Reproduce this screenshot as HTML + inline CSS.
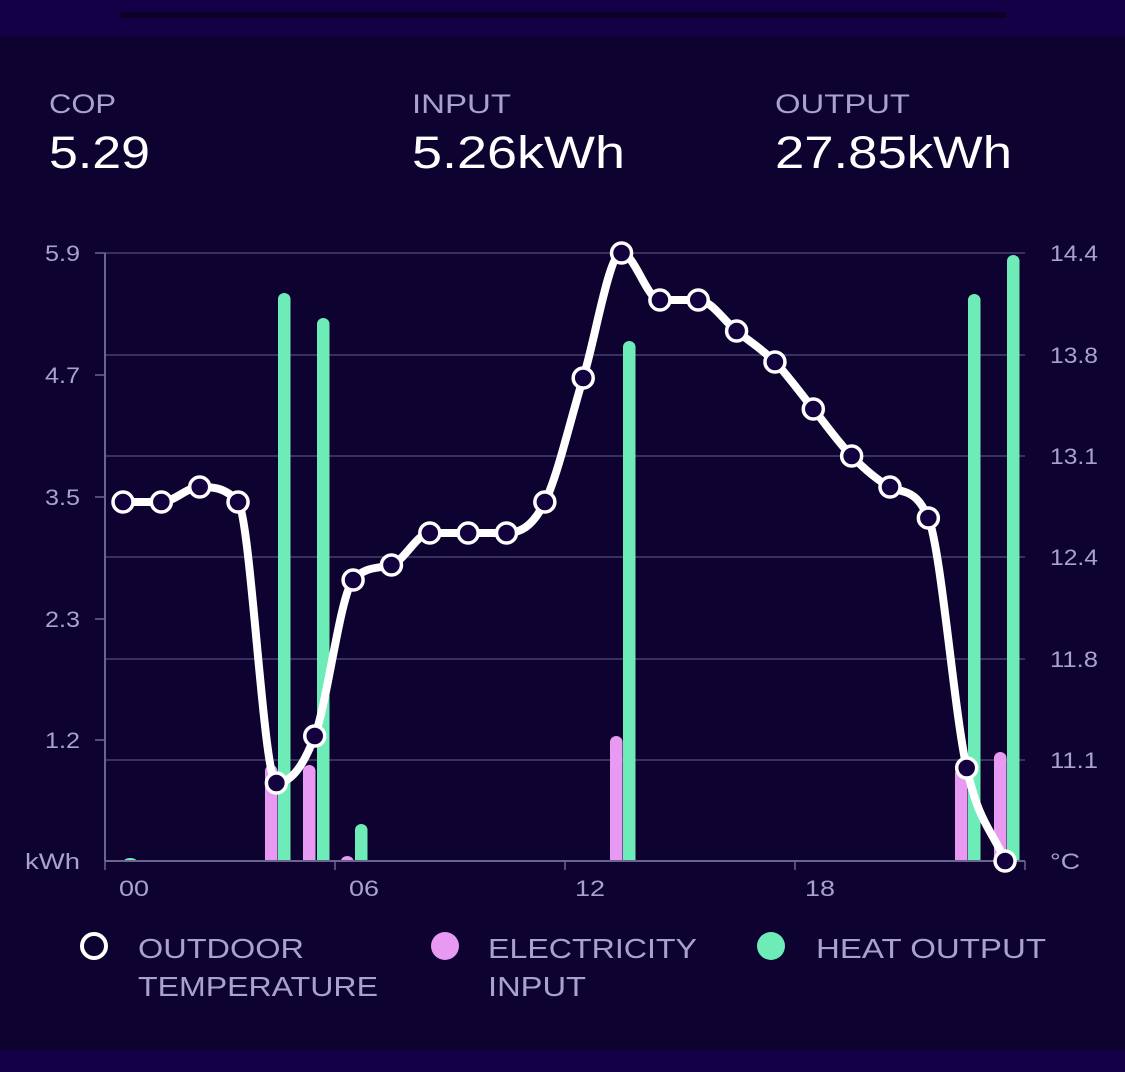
<!DOCTYPE html>
<html><head><meta charset="utf-8"><style>
html,body{margin:0;padding:0;background:#0d0230;width:1125px;height:1072px;overflow:hidden;font-family:"Liberation Sans",sans-serif}
</style></head><body>
<svg id="s" width="1125" height="1072" xmlns="http://www.w3.org/2000/svg" style="position:absolute;left:0;top:0">
<rect x="0" y="0" width="1125" height="36" fill="#130046"/>
<rect x="120" y="12" width="886" height="6" fill="#0b0128"/>
<rect x="0" y="1050" width="1125" height="22" fill="#130046"/>
<g font-family="Liberation Sans, sans-serif">
<text x="49" y="113" fill="#a9a1cf" font-size="27" textLength="67" lengthAdjust="spacingAndGlyphs">COP</text>
<text x="412" y="113" fill="#a9a1cf" font-size="27" textLength="99" lengthAdjust="spacingAndGlyphs">INPUT</text>
<text x="775" y="113" fill="#a9a1cf" font-size="27" textLength="135" lengthAdjust="spacingAndGlyphs">OUTPUT</text>
<text x="49" y="168" fill="#fff" font-size="45" textLength="101" lengthAdjust="spacingAndGlyphs">5.29</text>
<text x="412" y="168" fill="#fff" font-size="45" textLength="213" lengthAdjust="spacingAndGlyphs">5.26kWh</text>
<text x="775" y="168" fill="#fff" font-size="45" textLength="237" lengthAdjust="spacingAndGlyphs">27.85kWh</text>
</g>
<g id="grid" stroke="#4a4070" stroke-width="1.5"></g>
<g id="bars"></g>
<g id="axes"></g>
<path id="line" fill="none" stroke="#fff" stroke-width="8" stroke-linejoin="round"/>
<g id="pts"></g>
<g font-family="Liberation Sans, sans-serif" font-size="28" fill="#a9a1cf">
<circle cx="94" cy="946" r="12" fill="#0d0230" stroke="#fff" stroke-width="4"/>
<text x="138" y="958" textLength="166" lengthAdjust="spacingAndGlyphs">OUTDOOR</text><text x="138" y="996" textLength="240" lengthAdjust="spacingAndGlyphs">TEMPERATURE</text>
<circle cx="445" cy="946" r="14" fill="#e89af2"/>
<text x="488" y="958" textLength="209" lengthAdjust="spacingAndGlyphs">ELECTRICITY</text><text x="488" y="996" textLength="98" lengthAdjust="spacingAndGlyphs">INPUT</text>
<circle cx="771" cy="946" r="14" fill="#6eecb8"/>
<text x="816" y="958" textLength="230" lengthAdjust="spacingAndGlyphs">HEAT OUTPUT</text>
</g>
</svg>
<script>
var NS="http://www.w3.org/2000/svg";
function el(t,a,p,txt){var e=document.createElementNS(NS,t);for(var k in a)e.setAttribute(k,a[k]);if(txt)e.textContent=txt;document.getElementById(p).appendChild(e);return e;}
var L=105,R=1025;
[253,355,456,557,659,760].forEach(function(y){el('line',{x1:L,x2:R,y1:y,y2:y},'grid');});
el('line',{x1:L,x2:L,y1:253,y2:861,stroke:'#6b6490','stroke-width':2},'axes');
el('line',{x1:L,x2:R,y1:861,y2:861,stroke:'#6b6490','stroke-width':2},'axes');
var lf={'font-family':'Liberation Sans, sans-serif','font-size':22,fill:'#a9a1cf'};
function T(x,y,s,anc,w){var a=Object.assign({x:x,y:y,'text-anchor':anc},lf);if(w){a.textLength=w;a.lengthAdjust='spacingAndGlyphs';}el('text',a,'axes',s);}
[['5.9',253],['4.7',375],['3.5',497],['2.3',619],['1.2',740]].forEach(function(d){T(80,d[1]+8,d[0],'end',35);el('line',{x1:95,x2:105,y1:d[1],y2:d[1],stroke:'#6b6490','stroke-width':1.5},'axes');});
T(80,869,'kWh','end',55);
[['14.4',253],['13.8',355],['13.1',456],['12.4',557],['11.8',659],['11.1',760]].forEach(function(d){T(1050,d[1]+8,d[0],'start',48);});
T(1050,869,'°C','start',30);
[105,335,565,795,1025].forEach(function(x){el('line',{x1:x,x2:x,y1:861,y2:870,stroke:'#6b6490','stroke-width':1.5},'axes');});
[['00',134],['06',364],['12',590],['18',820]].forEach(function(d){T(d[1],896,d[0],'middle',30);});
function bar(x,top,c){var w=12.5,b=861;var r=6;var h=b-top;if(h<r){r=h;}
el('path',{d:'M'+x+' '+b+' L'+x+' '+(top+r)+' A'+(w/2)+' '+r+' 0 0 1 '+(x+w)+' '+(top+r)+' L'+(x+w)+' '+b+' Z',fill:c},'bars');}
var P='#e89af2',G='#6eecb8';
bar(124,858,G);
bar(265,765,P);bar(278,293,G);
bar(303,765,P);bar(317,318,G);
bar(341,856,P);bar(355,824,G);
bar(610,736,P);bar(623,341,G);
bar(955,768,P);bar(968,294,G);
bar(994,752,P);bar(1007,255,G);
var ys=[502,502,487,502,783,736,580,565,533,533,533,502,378,253,300,300,331,362,409,456,487,518,768,861];
var xs=ys.map(function(_,i){return 123+i*38.35;});
var n=ys.length,d=[],m=[];
for(var i=0;i<n-1;i++)d.push((ys[i+1]-ys[i])/(xs[i+1]-xs[i]));
m[0]=d[0];m[n-1]=d[n-2];
for(i=1;i<n-1;i++){m[i]=(d[i-1]*d[i]<=0)?0:(d[i-1]+d[i])/2;}
for(i=0;i<n-1;i++){if(d[i]==0){m[i]=m[i+1]=0;continue;}var a=m[i]/d[i],b=m[i+1]/d[i],s=a*a+b*b;if(s>9){var t=3/Math.sqrt(s);m[i]=t*a*d[i];m[i+1]=t*b*d[i];}}
var p='M'+xs[0]+' '+ys[0];
for(i=0;i<n-1;i++){var h=(xs[i+1]-xs[i])/3;p+=' C'+(xs[i]+h)+' '+(ys[i]+m[i]*h)+' '+(xs[i+1]-h)+' '+(ys[i+1]-m[i+1]*h)+' '+xs[i+1]+' '+ys[i+1];}
document.getElementById('line').setAttribute('d',p);
for(i=0;i<n;i++)el('circle',{cx:xs[i],cy:ys[i],r:10,fill:'#14013f',stroke:'#fff','stroke-width':3.5},'pts');
</script>
</body></html>
